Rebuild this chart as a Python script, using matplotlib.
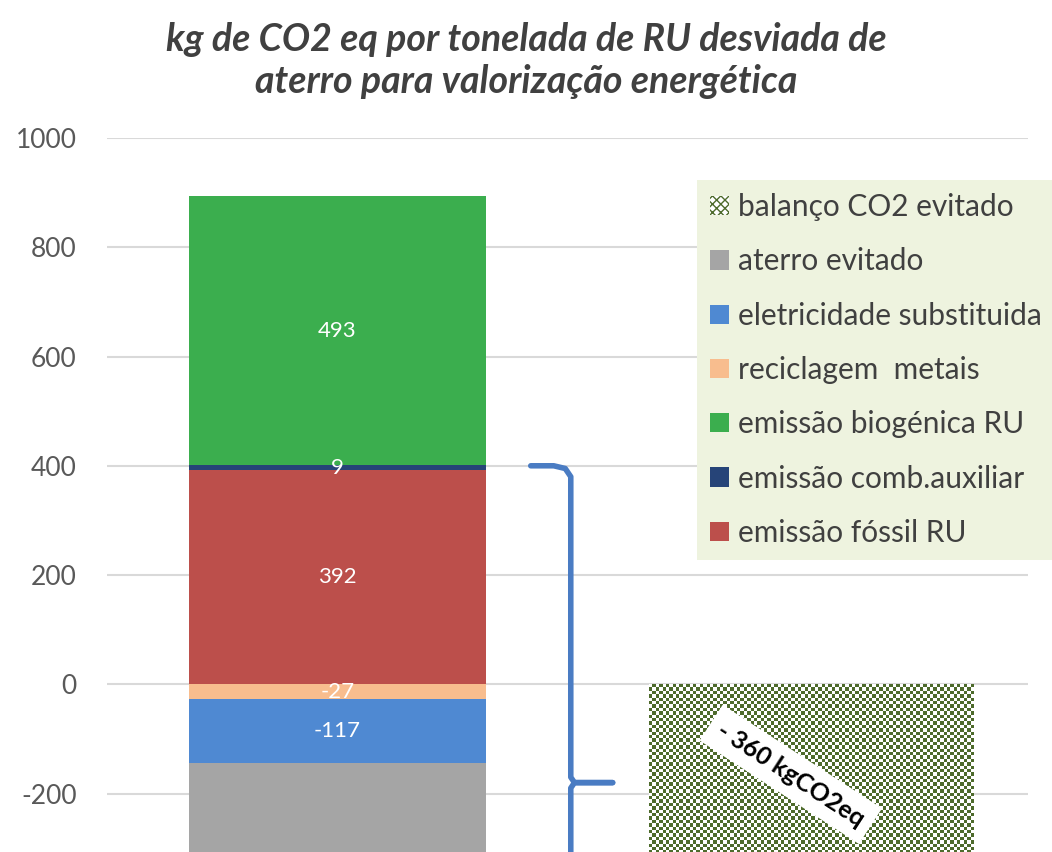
import numpy as np
import matplotlib.pyplot as plt
from matplotlib.patches import Patch
plt.switch_backend('Agg')

plt.rcParams['font.family'] = ['Lato', 'DejaVu Sans']
plt.rcParams['axes.unicode_minus'] = False

# stacked components of the first column (kg CO2 eq / t)
series = ['aterro evitado', 'eletricidade substituida', 'reciclagem  metais',
          'emissão biogénica RU', 'emissão comb.auxiliar', 'emissão fóssil RU']
values = [-617, -117, -27, 493, 9, 392]
colors = ['#A5A5A5', '#4F89D2', '#F8BD8E', '#3BAE4E', '#264478', '#BC4F4B']
show_label = [False, True, True, True, True, True]

balance_label = 'balanço CO2 evitado'
balance_value = -360

# drawing order bottom->top for positives and top->bottom for negatives
pos_order = ['emissão fóssil RU', 'emissão comb.auxiliar', 'emissão biogénica RU']
neg_order = ['reciclagem  metais', 'eletricidade substituida', 'aterro evitado']

fig = plt.figure(figsize=(10.52, 8.52), dpi=100)
ax = fig.add_axes([0.102, 0.0, 0.875, 0.838])

for order in (pos_order, neg_order):
    base = 0
    for name in order:
        i = series.index(name)
        v = values[i]
        ax.bar(0, v, bottom=base, width=0.645, color=colors[i], zorder=2)
        if show_label[i]:
            ax.text(0, base + v / 2, '%d' % v, ha='center', va='center',
                    color='white', fontsize=16, zorder=4)
        base += v

# checkered bar for the avoided CO2 balance
bal = ax.bar(1.03, balance_value, width=0.705, color='white', zorder=2)[0]
x0, w = bal.get_x(), bal.get_width()
nx, ny = 96, 58
checker = (np.indices((ny, nx)).sum(axis=0) % 2).astype(float)
cmap = plt.matplotlib.colors.ListedColormap(['white', '#4E6B2C'])
ax.imshow(checker, cmap=cmap, extent=[x0, x0 + w, balance_value, 0],
          aspect='auto', interpolation='nearest', zorder=3)

ax.text(0.985, -165, '- %d kgCO2eq' % abs(balance_value), rotation=-33,
        ha='center', va='center', fontsize=18, fontweight='bold', color='black',
        zorder=5, bbox=dict(facecolor='white', edgecolor='none', pad=7))

# brace covering the fossil/auxiliary emissions and the avoided terms
bx = [0.42, 0.47, 0.495, 0.507, 0.507, 0.515, 0.598]
by = [400, 400, 395, 380, -170, -180, -180]
ax.plot(bx, by, color='#4A7CC3', lw=4, solid_capstyle='round', zorder=4)
ax.plot([0.598, 0.515, 0.507, 0.507], [-180, -180, -190, -400],
        color='#4A7CC3', lw=4, solid_capstyle='round', zorder=4)

ax.set_xlim(-0.5, 1.5)
ax.set_ylim(-307, 1000)
ax.set_yticks([-200, 0, 200, 400, 600, 800, 1000])
ax.set_xticks([])
ax.tick_params(axis='y', length=0, labelsize=19, labelcolor='#595959', pad=22)
for s in ax.spines.values():
    s.set_visible(False)
ax.grid(axis='y', color='#D9D9D9', lw=1.5, zorder=0)
ax.set_axisbelow(True)

leg_handles = [Patch(facecolor='white', edgecolor='#4E6B2C', hatch='xxxx', lw=0)]
leg_labels = [balance_label]
for name in ['aterro evitado', 'eletricidade substituida', 'reciclagem  metais',
             'emissão biogénica RU', 'emissão comb.auxiliar', 'emissão fóssil RU']:
    i = series.index(name)
    leg_handles.append(Patch(facecolor=colors[i]))
    leg_labels.append(name)
leg = fig.legend(leg_handles, leg_labels, loc='upper left',
                 bbox_to_anchor=(0.6625, 0.789), fontsize=21.5, frameon=True,
                 facecolor='#EEF3DF', edgecolor='none', framealpha=1,
                 handlelength=0.62, handleheight=0.62, handletextpad=0.3,
                 labelspacing=0.88, borderpad=0.45, borderaxespad=0,
                 fancybox=False)
for t in leg.get_texts():
    t.set_color('#404040')

fig.text(0.5, 0.929, 'kg de CO2 eq por tonelada de RU desviada de\naterro para valorização energética',
         ha='center', va='center', fontsize=27, fontweight='bold', style='italic',
         color='#404040', linespacing=1.25)

fig.savefig('out.png', dpi=100)
